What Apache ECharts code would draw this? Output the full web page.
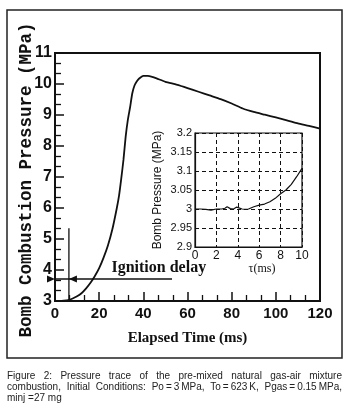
<!DOCTYPE html>
<html>
<head>
<meta charset="utf-8">
<script src="https://cdn.jsdelivr.net/npm/echarts@6/dist/echarts.min.js"></script>
<style>
  html, body { margin: 0; padding: 0; background: #fff; }
  #chart { position: absolute; left: 0; top: 0; width: 345px; height: 413px; }
  .cap { position: absolute; left: 7px; width: 335px; font-family: "Liberation Sans", Arial, sans-serif;
         font-size: 10px; line-height: 11px; color: #222; white-space: nowrap; }
  .just { text-align: justify; text-align-last: justify; }
</style>
</head>
<body>
<div id="chart"></div>
<div class="cap just" style="top:370px">Figure 2: Pressure trace of the pre-mixed natural gas-air mixture</div>
<div class="cap just" style="top:381px">combustion, Initial Conditions: Po&#8201;=&#8201;3&#8201;MPa, To&#8201;=&#8201;623&#8201;K, Pgas&#8201;=&#8201;0.15&#8201;MPa,</div>
<div class="cap" style="top:392px">minj =27 mg</div>
<script>
// main trace: elapsed time (ms) vs bomb pressure (MPa)
const timeMs = [0, 2, 4, 6, 8, 10, 12, 14, 16, 18, 20, 22, 24, 26, 28, 29, 30, 31, 32, 33, 34, 35, 36, 37, 38, 40,
  42, 44, 46, 50, 55, 60, 65, 70, 75, 80, 85, 90, 95, 100, 105, 110, 115, 120];
const pressureMPa = [3.0, 3.0, 3.01, 3.03, 3.08, 3.15, 3.25, 3.4, 3.58, 3.8, 4.06, 4.4, 4.8, 5.32, 6.0, 6.4, 6.95,
  7.55, 8.3, 8.85, 9.25, 9.7, 9.95, 10.08, 10.17, 10.26, 10.26, 10.23, 10.18, 10.07, 9.98, 9.87, 9.75, 9.63, 9.51,
  9.37, 9.21, 9.1, 9.01, 8.92, 8.83, 8.73, 8.65, 8.56];

// inset: first 10 ms
const tauMs = [0, 0.5, 1, 1.5, 2, 2.5, 2.8, 3, 3.3, 3.6, 3.9, 4.1, 4.4, 4.8, 5, 5.5, 6, 6.5, 7, 7.5, 8, 8.5, 9, 9.5, 10];
const insetMPa = [3.0, 3.0, 2.999, 2.997, 3.0, 3.0, 3.002, 3.006, 3.001, 3.0, 3.005, 3.003, 3.0, 2.999, 3.0, 3.006,
  3.01, 3.013, 3.019, 3.028, 3.04, 3.05, 3.065, 3.085, 3.107];

// ignition delay annotation (data units)
const delayTime = 6.3;
const delayLevel = 3.71;
const delayTop = 5.35;
const arrowFrom = -16;
const arrowTo = 53;

const ink = '#111';
const zip = (xs, ys) => xs.map((x, i) => [x, ys[i]]);

const chart = echarts.init(document.getElementById('chart'));

const option = {
  backgroundColor: '#fff',
  animation: false,
  graphic: [{
    type: 'rect', shape: {x: 7, y: 10, width: 335, height: 348},
    style: {fill: 'none', stroke: '#222', lineWidth: 1.5}, z: 0
  }],
  grid: [
    {left: 55, top: 53, width: 265, height: 248, show: true, borderColor: ink, borderWidth: 2},
    {left: 195, top: 133, width: 107, height: 114, show: true, borderColor: ink, borderWidth: 1.2, backgroundColor: '#fff'}
  ],
  xAxis: [
    {
      type: 'value', gridIndex: 0, min: 0, max: 120, interval: 20,
      axisLine: {lineStyle: {color: ink, width: 2}},
      axisTick: {inside: true, length: 9, lineStyle: {color: ink, width: 1.5}},
      minorTick: {show: true, splitNumber: 3, length: 6, lineStyle: {color: ink, width: 1.3}},
      splitLine: {show: false},
      axisLabel: {color: ink, fontFamily: 'Liberation Sans', fontWeight: 'bold', fontSize: 15, margin: 5},
      name: 'Elapsed Time (ms)', nameLocation: 'middle', nameGap: 30,
      nameTextStyle: {color: ink, fontFamily: 'Liberation Serif', fontWeight: 'bold', fontSize: 15}
    },
    {
      type: 'value', gridIndex: 1, min: 0, max: 10, interval: 2,
      axisLine: {lineStyle: {color: ink, width: 1.2}},
      axisTick: {show: false},
      splitLine: {show: true, lineStyle: {color: ink, width: 1, type: [4, 3]}},
      axisLabel: {color: ink, fontFamily: 'Liberation Sans', fontSize: 12, margin: 3},
      name: 'τ(ms)', nameLocation: 'middle', nameGap: 15,
      nameTextStyle: {color: ink, fontFamily: 'Liberation Serif', fontSize: 12, padding: [0, 0, 0, 27]}
    }
  ],
  yAxis: [
    {
      type: 'value', gridIndex: 0, min: 3, max: 11, interval: 1,
      axisLine: {lineStyle: {color: ink, width: 2}},
      axisTick: {inside: true, length: 9, lineStyle: {color: ink, width: 1.5}},
      minorTick: {show: true, splitNumber: 3, length: 6, lineStyle: {color: ink, width: 1.3}},
      splitLine: {show: false},
      axisLabel: {color: ink, fontFamily: 'Liberation Sans', fontWeight: 'bold', fontSize: 16, margin: 3},
      name: 'Bomb Combustion Pressure (MPa)', nameLocation: 'middle', nameGap: 19, nameMoveOverlap: false,
      nameTextStyle: {color: ink, fontFamily: 'Liberation Mono', fontWeight: 'bold', fontSize: 17.5,
        padding: [0, 6, 0, 0]}
    },
    {
      type: 'value', gridIndex: 1, min: 2.9, max: 3.2, interval: 0.05,
      axisLine: {lineStyle: {color: ink, width: 1.2}},
      axisTick: {show: false},
      splitLine: {show: true, lineStyle: {color: ink, width: 1, type: [4, 3]}},
      axisLabel: {color: ink, fontFamily: 'Liberation Sans', fontSize: 11, margin: 3,
        formatter: v => String(+v.toFixed(2))},
      name: 'Bomb Pressure (MPa)', nameLocation: 'middle', nameGap: 31, nameMoveOverlap: false,
      nameTextStyle: {color: ink, fontFamily: 'Liberation Sans', fontSize: 12}
    }
  ],
  series: [
    {
      type: 'line', xAxisIndex: 0, yAxisIndex: 0, data: zip(timeMs, pressureMPa),
      symbol: 'none', smooth: 0.2, lineStyle: {color: ink, width: 1.8}
    },
    {
      type: 'line', xAxisIndex: 1, yAxisIndex: 1, data: zip(tauMs, insetMPa),
      symbol: 'none', lineStyle: {color: ink, width: 1.2}, z: 5
    },
    {
      // ignition delay marker: vertical line
      type: 'line', xAxisIndex: 0, yAxisIndex: 0, clip: false, symbol: 'none',
      data: [[delayTime, 3], [delayTime, delayTop]],
      lineStyle: {color: ink, width: 1.3}
    },
    {
      // ignition delay marker: horizontal arrow line + label
      type: 'line', xAxisIndex: 0, yAxisIndex: 0, clip: false, symbol: 'none',
      data: [[arrowFrom, delayLevel], [arrowTo, delayLevel]],
      lineStyle: {color: ink, width: 1.3},
      markPoint: {
        silent: true,
        itemStyle: {color: ink},
        label: {show: false},
        data: [
          {coord: [0, delayLevel], symbol: 'triangle', symbolRotate: -90, symbolSize: [7, 8], symbolOffset: [-4, 0]},
          {coord: [delayTime, delayLevel], symbol: 'triangle', symbolRotate: 90, symbolSize: [7, 8], symbolOffset: [4, 0]},
          {coord: [47, 4.06], symbol: 'circle', symbolSize: 1, itemStyle: {color: 'rgba(0,0,0,0)'},
            label: {show: true, position: 'inside', formatter: 'Ignition delay', color: ink,
              fontFamily: 'Liberation Serif', fontWeight: 'bold', fontSize: 16}}
        ]
      }
    }
  ]
};

chart.setOption(option);
</script>
</body>
</html>
